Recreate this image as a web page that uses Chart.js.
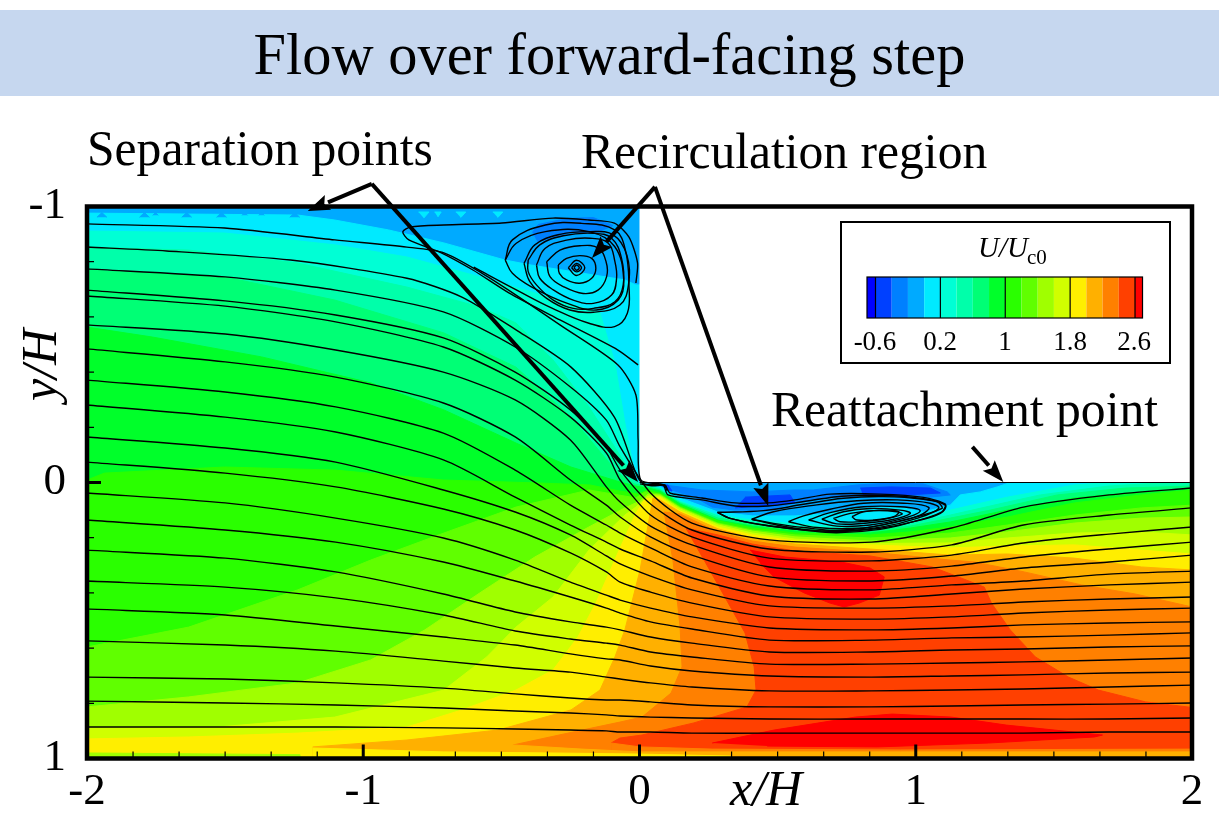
<!DOCTYPE html>
<html>
<head>
<meta charset="utf-8">
<title>Flow over forward-facing step</title>
<script src="https://cdn.jsdelivr.net/npm/chart.js@4/dist/chart.umd.js"></script>
<style>
html, body { margin: 0; padding: 0; background: #fff; }
canvas { display: block; }
</style>
</head>
<body>
<canvas id="flow-chart" width="1219" height="813"></canvas>
<script>
// Axis ticks
const xMajorTicks = [-2, -1, 0, 1, 2];
const yMajorTicks = [-1, 0, 1];
const xMinorPerUnit = 6;
const yMinorPerUnit = 5;

// Legend
const legendColors = ['#0000ff', '#0040ff', '#0080ff', '#00aaff', '#00eaff', '#00ffd5', '#00ffaa', '#00ff75', '#00ff2a',
    '#2aff00', '#60ff00', '#a0ff00', '#d0ff00', '#ffee00', '#ffb000', '#ff8000', '#ff4000', '#ff0000'];
const legendLabels = ['-0.6', '0.2', '1', '1.8', '2.6'];

// Contour regions of U/Uc0, x/H and y/H pairs
const regionBase = [[-2, -1], [2, -1], [2, 1], [-2, 1]];
const levelC4 = [[-2, -0.976], [-1.237, -0.969], [-1.103, -0.951], [-0.908, -0.915], [-0.708, -0.868], [-0.487, -0.806], [-0.393, -0.788], [-0.053, -0.734], [-0.013, -0.716], [0.002, -0.716], [0.002, 0], [0.081, 0.016], [0.147, 0.056], [0.284, 0.107], [0.408, 0.121], [0.563, 0.121], [0.665, 0.114], [0.763, 0.096], [0.861, 0.089], [0.955, 0.092], [1.027, 0.107], [1.125, 0.082], [1.161, 0.045], [1.234, 0.034], [1.295, 0.016], [1.342, 0], [2, 0], [2, 1], [-2, 1]];
const levelC5 = [[-2, -0.911], [-1.502, -0.904], [-1.103, -0.861], [-0.842, -0.817], [-0.578, -0.745], [-0.379, -0.687], [-0.143, -0.614], [-0.125, -0.553], [-0.089, -0.433], [-0.053, -0.216], [-0.013, -0.009], [0.002, 0.004], [0.074, 0.02], [0.147, 0.067], [0.284, 0.118], [0.408, 0.136], [0.563, 0.15], [0.835, 0.165], [0.98, 0.139], [1.125, 0.1], [1.332, 0.053], [1.574, 0.009], [1.697, 0], [2, 0], [2, 1], [-2, 1]];
const levelC6 = [[-2, -0.853], [-1.632, -0.842], [-1.237, -0.795], [-0.842, -0.708], [-0.578, -0.636], [-0.447, -0.578], [-0.313, -0.444], [-0.183, -0.274], [-0.053, -0.071], [-0.005, 0.002], [0.074, 0.024], [0.147, 0.071], [0.284, 0.121], [0.408, 0.143], [0.563, 0.161], [0.835, 0.172], [0.98, 0.15], [1.125, 0.118], [1.332, 0.071], [1.451, 0.045], [1.697, 0.013], [1.879, 0.002], [2, 0.002], [2, 1], [-2, 1]];
const levelC7 = [[-2, -0.77], [-1.502, -0.745], [-1.103, -0.661], [-0.708, -0.542], [-0.447, -0.418], [-0.248, -0.237], [-0.078, -0.034], [-0.02, 0.005], [0.02, 0.013], [0.074, 0.027], [0.147, 0.074], [0.284, 0.129], [0.408, 0.15], [0.563, 0.168], [0.835, 0.178], [0.98, 0.158], [1.125, 0.129], [1.27, 0.1], [1.513, 0.045], [1.759, 0.02], [2, 0.013], [2, 1], [-2, 1]];
const levelC8 = [[-2, -0.563], [-1.763, -0.527], [-1.368, -0.455], [-0.973, -0.361], [-0.708, -0.263], [-0.447, -0.143], [-0.248, -0.056], [-0.071, -0.002], [-0.013, 0.013], [0.031, 0.02], [0.074, 0.031], [0.147, 0.078], [0.284, 0.136], [0.408, 0.158], [0.563, 0.176], [0.835, 0.183], [0.98, 0.165], [1.125, 0.143], [1.332, 0.1], [1.574, 0.056], [1.817, 0.034], [2, 0.024], [2, 1], [-2, 1]];
const levelC9 = [[-2, -0.009], [-1.937, -0.034], [-1.502, -0.056], [-1.103, -0.045], [-0.708, -0.009], [-0.361, 0.002], [-0.179, 0.009], [-0.071, 0.031], [-0.005, 0.042], [0.031, 0.027], [0.074, 0.038], [0.147, 0.085], [0.284, 0.139], [0.408, 0.165], [0.563, 0.183], [0.835, 0.19], [0.98, 0.179], [1.125, 0.161], [1.332, 0.125], [1.574, 0.074], [1.817, 0.045], [2, 0.027], [2, 1], [-2, 1]];
const levelC10 = [[-2, 0.596], [-1.632, 0.524], [-1.237, 0.389], [-0.973, 0.281], [-0.708, 0.183], [-0.447, 0.089], [-0.183, 0.027], [-0.013, 0.056], [0.02, 0.034], [0.074, 0.042], [0.147, 0.089], [0.284, 0.147], [0.408, 0.172], [0.563, 0.19], [0.835, 0.201], [0.98, 0.194], [1.125, 0.183], [1.332, 0.154], [1.574, 0.118], [1.817, 0.092], [2, 0.082], [2, 1], [-2, 1]];
const levelC11 = [[-2, 0.813], [-1.632, 0.777], [-1.237, 0.726], [-0.973, 0.643], [-0.777, 0.534], [-0.578, 0.4], [-0.379, 0.27], [-0.183, 0.161], [-0.053, 0.092], [0.002, 0.067], [0.031, 0.042], [0.074, 0.045], [0.147, 0.092], [0.284, 0.15], [0.408, 0.176], [0.563, 0.197], [0.835, 0.212], [1.125, 0.201], [1.332, 0.179], [1.574, 0.147], [1.817, 0.129], [2, 0.125], [2, 1], [-2, 1]];
const levelC12 = [[-2, 0.889], [-1.527, 0.886], [-1.103, 0.85], [-0.708, 0.752], [-0.553, 0.632], [-0.447, 0.524], [-0.313, 0.415], [-0.183, 0.245], [-0.053, 0.118], [-0.013, 0.089], [0.031, 0.049], [0.074, 0.049], [0.147, 0.096], [0.284, 0.154], [0.408, 0.183], [0.563, 0.205], [0.835, 0.221], [1.125, 0.219], [1.332, 0.201], [1.574, 0.183], [1.817, 0.179], [2, 0.19], [2, 1], [-2, 1]];
const levelC13 = [[-2, 0.929], [-1.632, 0.922], [-1.237, 0.908], [-0.842, 0.886], [-0.643, 0.824], [-0.447, 0.752], [-0.313, 0.679], [-0.223, 0.56], [-0.158, 0.437], [-0.078, 0.255], [-0.013, 0.111], [0.02, 0.06], [0.074, 0.053], [0.147, 0.103], [0.284, 0.161], [0.408, 0.19], [0.563, 0.212], [0.835, 0.226], [1.125, 0.237], [1.332, 0.23], [1.574, 0.226], [1.817, 0.245], [2, 0.259], [2, 1], [-2, 1]];
const levelC14 = [[-1.183, 0.958], [-0.842, 0.933], [-0.513, 0.897], [-0.248, 0.824], [-0.143, 0.752], [-0.089, 0.632], [-0.053, 0.534], [0.002, 0.317], [0.031, 0.154], [0.049, 0.056], [0.074, 0.063], [0.147, 0.107], [0.284, 0.168], [0.408, 0.201], [0.563, 0.223], [0.835, 0.241], [1.125, 0.263], [1.332, 0.259], [1.574, 0.274], [1.817, 0.306], [2, 0.317], [2, 1], [-1.183, 1]];
const levelC15 = [[-0.458, 0.951], [-0.208, 0.897], [-0.071, 0.868], [0.009, 0.85], [0.114, 0.763], [0.154, 0.668], [0.147, 0.524], [0.121, 0.281], [0.089, 0.107], [0.147, 0.114], [0.284, 0.179], [0.408, 0.212], [0.563, 0.234], [0.835, 0.252], [1.125, 0.281], [1.212, 0.288], [1.393, 0.324], [1.6, 0.371], [1.795, 0.404], [2, 0.451], [2, 1], [-0.458, 1]];
const levelC16 = [[-0.103, 0.944], [-0.071, 0.926], [0.009, 0.915], [0.197, 0.871], [0.389, 0.813], [0.422, 0.752], [0.415, 0.668], [0.382, 0.545], [0.248, 0.306], [0.168, 0.165], [0.284, 0.19], [0.408, 0.223], [0.563, 0.248], [0.835, 0.266], [1.06, 0.306], [1.154, 0.342], [1.248, 0.379], [1.274, 0.437], [1.342, 0.534], [1.433, 0.632], [1.553, 0.705], [1.661, 0.752], [1.832, 0.795], [2, 0.815], [2, 1], [-0.103, 1]];
const wallStrip15 = [[-0.103, 0.944], [0.002, 0.958], [0.263, 0.966], [0.944, 0.969], [2, 0.966], [2, 1], [-0.103, 1]];
const wallStrip14 = [[-0.458, 0.951], [-0.208, 0.966], [0.002, 0.976], [0.944, 0.976], [2, 0.976], [2, 1], [-0.458, 1]];
const wallStrip13 = [[-1.183, 0.962], [-0.708, 0.976], [-0.313, 0.98], [0.002, 0.984], [0.328, 0.991], [0.328, 1], [-1.183, 1]];
const wallStrip11 = [[-2, 0.98], [-1.23, 0.986], [-1.23, 1], [-2, 1]];
const redCore = [[0.4, 0.245], [0.527, 0.27], [0.73, 0.288], [0.835, 0.31], [0.886, 0.342], [0.868, 0.408], [0.795, 0.437], [0.741, 0.451], [0.69, 0.437], [0.596, 0.4], [0.487, 0.342], [0.437, 0.292]];
const redLower = [[0.263, 0.944], [0.487, 0.897], [0.781, 0.85], [0.915, 0.839], [1.129, 0.85], [1.328, 0.879], [1.676, 0.915], [1.647, 0.922], [1.263, 0.944], [0.861, 0.958], [0.462, 0.955]];
const upperBlobC2 = [[-0.388, -0.906], [-0.366, -0.935], [-0.261, -0.957], [-0.167, -0.96], [-0.096, -0.931], [-0.154, -0.906], [-0.252, -0.906], [-0.334, -0.88], [-0.37, -0.873]];
const bubbleC2 = [[0.092, 0.02], [0.201, 0.053], [0.263, 0.089], [0.346, 0.1], [0.466, 0.1], [0.563, 0.074], [0.665, 0.056], [0.788, 0.049], [0.908, 0.045], [1.053, 0.053], [1.125, 0.045], [1.114, 0.034], [1.027, 0.005], [0.908, 0.002], [0.788, 0.009], [0.629, 0.027], [0.563, 0.027], [0.408, 0.034], [0.226, 0.027], [0.092, 0.009]];
const bubbleC1 = [[0.799, 0.02], [0.908, 0.016], [1.053, 0.02], [1.089, 0.038], [0.969, 0.045], [0.81, 0.049]];
const bubbleC1Left = [[0.346, 0.092], [0.563, 0.074], [0.545, 0.045], [0.382, 0.053]];
const cornerC1 = [[0.056, 0.009], [0.103, 0.009], [0.118, 0.031], [0.074, 0.027]];
const topTeethC3 = [
    [[-1.964, -0.961], [-1.946, -0.978], [-1.928, -0.961]],
    [[-1.81, -0.961], [-1.792, -0.978], [-1.774, -0.961]],
    [[-1.762, -0.968], [-1.752, -0.978], [-1.742, -0.968]],
    [[-1.657, -0.961], [-1.639, -0.978], [-1.621, -0.961]],
    [[-1.531, -0.961], [-1.513, -0.978], [-1.495, -0.961]],
    [[-1.439, -0.968], [-1.429, -0.978], [-1.419, -0.968]],
    [[-1.378, -0.968], [-1.368, -0.978], [-1.358, -0.968]],
    [[-1.266, -0.961], [-1.248, -0.978], [-1.23, -0.961]]
];
const topNotchesC4 = [
    [[-0.8, -0.98], [-0.762, -0.98], [-0.781, -0.958]],
    [[-0.742, -0.98], [-0.718, -0.98], [-0.73, -0.962]],
    [[-0.665, -0.98], [-0.629, -0.98], [-0.647, -0.96]],
    [[-0.531, -0.98], [-0.495, -0.98], [-0.513, -0.96]]
];
const stepBody = [[0, -1], [2, -1], [2, 0], [0, 0]];

// Streamlines through the shared x/H columns
const streamX = [-2, -1.5, -1.1, -0.71, -0.45, -0.25, -0.12, -0.07, 0.04, 0.19, 0.47, 0.84, 1.13, 1.39, 1.7, 2];
const streamL3 = [-0.774, -0.745, -0.697, -0.618, -0.491, -0.346, -0.226, -0.129, 0.038, 0.147, 0.208, 0.216, 0.165, 0.089, 0.045, 0.02];
const streamL4 = [-0.697, -0.658, -0.607, -0.524, -0.4, -0.263, -0.129, -0.045, 0.078, 0.172, 0.241, 0.252, 0.226, 0.154, 0.118, 0.092];
const streamL5 = [-0.676, -0.639, -0.582, -0.491, -0.371, -0.237, -0.107, -0.009, 0.118, 0.197, 0.274, 0.284, 0.263, 0.219, 0.187, 0.161];
const streamL6 = [-0.571, -0.538, -0.48, -0.4, -0.299, -0.154, 0.016, 0.071, 0.158, 0.226, 0.306, 0.321, 0.303, 0.27, 0.241, 0.216];
const streamL7 = [-0.484, -0.437, -0.382, -0.288, -0.165, -0.009, 0.082, 0.125, 0.197, 0.263, 0.342, 0.357, 0.339, 0.31, 0.288, 0.263];
const streamL8 = [-0.371, -0.328, -0.274, -0.179, -0.045, 0.082, 0.154, 0.183, 0.237, 0.306, 0.375, 0.389, 0.371, 0.357, 0.332, 0.321];
const streamL9 = [-0.281, -0.237, -0.183, -0.082, 0.053, 0.154, 0.216, 0.241, 0.284, 0.346, 0.411, 0.422, 0.404, 0.386, 0.371, 0.361];
const streamL10 = [-0.165, -0.125, -0.074, 0.027, 0.107, 0.19, 0.266, 0.295, 0.339, 0.389, 0.447, 0.455, 0.447, 0.433, 0.422, 0.415];
const streamL11 = [-0.074, -0.034, 0.016, 0.096, 0.172, 0.255, 0.324, 0.361, 0.397, 0.437, 0.487, 0.495, 0.487, 0.473, 0.462, 0.455];
const streamL12 = [0.038, 0.074, 0.129, 0.201, 0.281, 0.361, 0.408, 0.426, 0.455, 0.487, 0.527, 0.534, 0.527, 0.516, 0.509, 0.505];
const streamL13 = [0.136, 0.172, 0.216, 0.288, 0.357, 0.415, 0.455, 0.473, 0.505, 0.531, 0.571, 0.571, 0.563, 0.56, 0.553, 0.545];
const streamL14 = [0.245, 0.274, 0.324, 0.404, 0.469, 0.505, 0.524, 0.534, 0.56, 0.582, 0.614, 0.614, 0.607, 0.603, 0.596, 0.592];
const streamL15 = [0.357, 0.379, 0.418, 0.48, 0.538, 0.567, 0.582, 0.589, 0.614, 0.632, 0.658, 0.658, 0.654, 0.65, 0.643, 0.636];
const streamL16 = [0.458, 0.48, 0.52, 0.56, 0.589, 0.621, 0.639, 0.643, 0.665, 0.683, 0.701, 0.705, 0.701, 0.697, 0.69, 0.687];
const streamL17 = [0.574, 0.589, 0.611, 0.647, 0.672, 0.687, 0.705, 0.712, 0.726, 0.741, 0.755, 0.755, 0.752, 0.748, 0.741, 0.734];
const streamL18 = [0.705, 0.712, 0.726, 0.745, 0.766, 0.781, 0.788, 0.788, 0.795, 0.806, 0.813, 0.813, 0.81, 0.806, 0.803, 0.799];
const streamL19 = [0.792, 0.799, 0.806, 0.817, 0.828, 0.835, 0.842, 0.846, 0.85, 0.853, 0.857, 0.857, 0.857, 0.857, 0.857, 0.853];
const streamL20 = [0.886, 0.886, 0.886, 0.889, 0.893, 0.897, 0.9, 0.904, 0.904, 0.908, 0.908, 0.908, 0.908, 0.908, 0.904, 0.904];

// Streamlines that bend round the step, and the two recirculation vortices
const streamL1 = [[-2, -0.937], [-1.502, -0.922], [-1.103, -0.879], [-0.842, -0.853], [-0.708, -0.832], [-0.578, -0.763], [-0.447, -0.679], [-0.288, -0.571], [-0.078, -0.426], [-0.013, -0.317], [-0.005, -0.154], [0.005, -0.009], [0.092, 0.009], [0.11, 0.038], [0.226, 0.056], [0.346, 0.074], [0.466, 0.074], [0.563, 0.063], [0.69, 0.042], [0.871, 0.042], [1.028, 0.054], [1.107, 0.078], [1.095, 0.106], [0.992, 0.142], [0.871, 0.166], [0.714, 0.178], [0.594, 0.17], [0.497, 0.154], [0.406, 0.133]];
const streamL2 = [[-2, -0.853], [-1.712, -0.839], [-1.263, -0.806], [-0.842, -0.74], [-0.643, -0.672], [-0.447, -0.553], [-0.248, -0.418], [-0.091, -0.237], [-0.013, -0.034], [0.013, 0.004], [0.085, 0.009], [0.103, 0.045], [0.226, 0.063], [0.346, 0.085], [0.466, 0.085], [0.563, 0.074], [0.732, 0.05], [0.932, 0.049], [1.077, 0.069], [1.095, 0.094], [0.98, 0.13], [0.811, 0.166], [0.642, 0.175], [0.449, 0.154], [0.328, 0.13], [0.282, 0.108]];
const cornerWiggle = [[0.002, 0.005], [0.05, 0.012], [0.09, 0.01], [0.1, 0.03]];
const upperSeparation = [[-0.013, -0.723], [-0.007, -0.795], [-0.038, -0.889], [-0.091, -0.94], [-0.183, -0.951], [-0.313, -0.958], [-0.498, -0.94], [-0.708, -0.933], [-0.828, -0.926], [-0.857, -0.908], [-0.835, -0.879], [-0.723, -0.835], [-0.603, -0.77], [-0.473, -0.687], [-0.288, -0.589], [-0.078, -0.48], [-0.005, -0.426]];
const upperTail = [[-0.6, -0.78], [-0.446, -0.698], [-0.315, -0.631], [-0.183, -0.577], [-0.09, -0.565], [-0.044, -0.613], [-0.038, -0.71], [-0.051, -0.842], [-0.09, -0.915], [-0.21, -0.939], [-0.341, -0.933], [-0.46, -0.879], [-0.486, -0.806]];
const upperRing9 = [[-0.486, -0.806], [-0.446, -0.867], [-0.341, -0.909], [-0.183, -0.909], [-0.09, -0.855], [-0.057, -0.734], [-0.077, -0.661], [-0.156, -0.625], [-0.261, -0.649], [-0.393, -0.71], [-0.46, -0.758], [-0.486, -0.806]];
const upperRing8 = [[-0.418, -0.794], [-0.379, -0.861], [-0.288, -0.899], [-0.179, -0.909], [-0.095, -0.897], [-0.046, -0.824], [-0.04, -0.716], [-0.071, -0.643], [-0.167, -0.617], [-0.252, -0.625], [-0.336, -0.667], [-0.397, -0.728], [-0.418, -0.794]];
const upperRing7 = [[-0.403, -0.806], [-0.361, -0.861], [-0.276, -0.894], [-0.167, -0.903], [-0.101, -0.885], [-0.065, -0.812], [-0.059, -0.716], [-0.089, -0.655], [-0.167, -0.631], [-0.24, -0.631], [-0.312, -0.661], [-0.373, -0.716], [-0.403, -0.764], [-0.403, -0.806]];
const upperRing6 = [[-0.373, -0.788], [-0.342, -0.848], [-0.264, -0.878], [-0.179, -0.885], [-0.113, -0.867], [-0.089, -0.8], [-0.083, -0.74], [-0.101, -0.679], [-0.167, -0.649], [-0.24, -0.661], [-0.312, -0.698], [-0.361, -0.74], [-0.373, -0.788]];
const upperRing5 = [[-0.336, -0.8], [-0.288, -0.842], [-0.216, -0.858], [-0.149, -0.849], [-0.121, -0.8], [-0.119, -0.746], [-0.149, -0.698], [-0.204, -0.685], [-0.276, -0.71], [-0.324, -0.746], [-0.336, -0.8]];
const upperRing4 = [[-0.294, -0.788], [-0.264, -0.812], [-0.216, -0.822], [-0.173, -0.812], [-0.158, -0.776], [-0.173, -0.74], [-0.216, -0.722], [-0.264, -0.734], [-0.29, -0.758], [-0.294, -0.788]];
const upperRing3 = [[-0.258, -0.778], [-0.228, -0.805], [-0.198, -0.778], [-0.228, -0.75], [-0.258, -0.778]];
const upperRing2 = [[-0.246, -0.778], [-0.228, -0.794], [-0.21, -0.778], [-0.228, -0.763], [-0.246, -0.778]];
const upperRing1 = [[-0.237, -0.778], [-0.228, -0.788], [-0.218, -0.778], [-0.228, -0.769], [-0.237, -0.778]];
const lowerLoopA = [[0.282, 0.108], [0.449, 0.102], [0.594, 0.079], [0.738, 0.057], [0.883, 0.051], [1.028, 0.061], [1.107, 0.082], [1.089, 0.112], [0.992, 0.142], [0.871, 0.17], [0.714, 0.182], [0.594, 0.172], [0.449, 0.154], [0.328, 0.13], [0.282, 0.108]];
const lowerLoopB = [[0.406, 0.133], [0.485, 0.106], [0.642, 0.081], [0.787, 0.066], [0.932, 0.063], [1.052, 0.075], [1.083, 0.094], [1.004, 0.13], [0.883, 0.16], [0.738, 0.175], [0.594, 0.163], [0.485, 0.148], [0.406, 0.133]];
const lowerLoopC = [[0.539, 0.142], [0.594, 0.121], [0.69, 0.097], [0.811, 0.075], [0.956, 0.075], [1.047, 0.09], [1.016, 0.118], [0.907, 0.148], [0.787, 0.166], [0.642, 0.163], [0.539, 0.142]];
const lowerLoopD = [[0.612, 0.136], [0.69, 0.109], [0.811, 0.088], [0.944, 0.088], [1.016, 0.102], [0.956, 0.13], [0.835, 0.154], [0.714, 0.158], [0.612, 0.136]];
const lowerLoopE = [[0.66, 0.133], [0.738, 0.106], [0.835, 0.094], [0.944, 0.1], [0.98, 0.112], [0.907, 0.136], [0.811, 0.148], [0.714, 0.15], [0.66, 0.133]];
const lowerLoopF = [[0.702, 0.13], [0.763, 0.112], [0.847, 0.102], [0.932, 0.106], [0.95, 0.115], [0.883, 0.133], [0.799, 0.142], [0.726, 0.142], [0.702, 0.13]];
const lowerLoopG = [[0.769, 0.124], [0.811, 0.106], [0.896, 0.1], [0.938, 0.106], [0.92, 0.124], [0.847, 0.136], [0.787, 0.136], [0.769, 0.124]];

// Annotation arrows, tail x, tail y, tip x, tip y
const arrowSeparationTop = [-0.969, -1.082, -1.201, -0.984];
const arrowSeparationCorner = [-0.969, -1.082, -0.005, -0.002];
const arrowRecirculationUpper = [0.056, -1.071, -0.172, -0.813];
const arrowRecirculationLower = [0.056, -1.071, 0.466, 0.085];
const arrowReattachment = [1.205, -0.129, 1.317, -0.002];

const SERIF = '"Liberation Serif", "Times New Roman", serif';

function toPoints(pairs) {
    return pairs.map(p => ({ x: p[0], y: p[1] }));
}

function regionDataset(pairs, color) {
    return {
        data: toPoints(pairs),
        showLine: true,
        fill: 'shape',
        backgroundColor: color,
        borderColor: color,
        borderWidth: 1,
        pointRadius: 0,
        tension: 0
    };
}

function streamDataset(pairs, tension) {
    return {
        data: toPoints(pairs),
        showLine: true,
        fill: false,
        borderColor: '#000',
        borderWidth: 1.4,
        pointRadius: 0,
        tension: tension
    };
}

const c = legendColors;
const datasets = [
    regionDataset(regionBase, c[3]),
    regionDataset(upperBlobC2, c[2]),
    regionDataset(bubbleC2, c[2]),
    regionDataset(bubbleC1, c[1]),
    regionDataset(bubbleC1Left, c[1]),
    regionDataset(cornerC1, c[1]),
    regionDataset(levelC4, c[4])
];
topTeethC3.forEach(t => datasets.push(regionDataset(t, c[3])));
topNotchesC4.forEach(t => datasets.push(regionDataset(t, c[4])));
[levelC5, levelC6, levelC7, levelC8, levelC9, levelC10, levelC11, levelC12, levelC13, levelC14, levelC15, levelC16]
    .forEach((level, i) => datasets.push(regionDataset(level, c[i + 5])));
datasets.push(regionDataset(wallStrip15, c[15]));
datasets.push(regionDataset(wallStrip14, c[14]));
datasets.push(regionDataset(wallStrip13, c[13]));
datasets.push(regionDataset(wallStrip11, c[11]));
datasets.push(regionDataset(redCore, c[17]));
datasets.push(regionDataset(redLower, c[17]));

const stepDataset = regionDataset(stepBody, '#fff');
stepDataset.borderColor = '#000';
datasets.push(stepDataset);

[streamL3, streamL4, streamL5, streamL6, streamL7, streamL8, streamL9, streamL10, streamL11, streamL12, streamL13,
    streamL14, streamL15, streamL16, streamL17, streamL18, streamL19, streamL20].forEach(line => {
    datasets.push(streamDataset(streamX.map((x, i) => [x, line[i]]), 0.25));
});
[streamL1, streamL2, cornerWiggle, upperSeparation].forEach(line => datasets.push(streamDataset(line, 0.25)));
[upperTail, upperRing9, upperRing8, upperRing7, upperRing6, upperRing5, upperRing4, upperRing3, upperRing2, upperRing1,
    lowerLoopA, lowerLoopB, lowerLoopC, lowerLoopD, lowerLoopE, lowerLoopF, lowerLoopG]
    .forEach(line => datasets.push(streamDataset(line, 0.4)));

// first dataset in the list is painted on top, so flip for painter's order
datasets.reverse();

function drawText(ctx, text, x, y, font, align) {
    ctx.font = font;
    ctx.textAlign = align || 'left';
    ctx.textBaseline = 'alphabetic';
    ctx.fillStyle = '#000';
    ctx.fillText(text, x, y);
}

const titleBand = {
    id: 'titleBand',
    beforeDraw(chart) {
        const ctx = chart.ctx;
        ctx.save();
        ctx.fillStyle = '#c6d7ef';
        ctx.fillRect(0, 10, chart.width, 86);
        drawText(ctx, 'Flow over forward-facing step', 609.5, 74, '58.4px ' + SERIF, 'center');
        ctx.restore();
    }
};

const frameAndNotes = {
    id: 'frameAndNotes',
    afterDatasetsDraw(chart) {
        const ctx = chart.ctx;
        const area = chart.chartArea;
        const xs = chart.scales.x;
        const ys = chart.scales.y;
        ctx.save();

        // minor ticks then major ticks, all pointing inwards
        ctx.strokeStyle = '#000';
        ctx.lineWidth = 1.2;
        ctx.beginPath();
        for (let i = 0; i <= 4 * xMinorPerUnit; i++) {
            const px = xs.getPixelForValue(-2 + i / xMinorPerUnit);
            ctx.moveTo(px, area.bottom);
            ctx.lineTo(px, area.bottom - 7);
        }
        for (let i = 0; i <= 2 * yMinorPerUnit; i++) {
            const py = ys.getPixelForValue(-1 + i / yMinorPerUnit);
            ctx.moveTo(area.left, py);
            ctx.lineTo(area.left + 7, py);
        }
        ctx.stroke();
        ctx.lineWidth = 3;
        ctx.beginPath();
        xMajorTicks.forEach(v => {
            const px = xs.getPixelForValue(v);
            ctx.moveTo(px, area.bottom);
            ctx.lineTo(px, area.bottom - 14);
        });
        yMajorTicks.forEach(v => {
            const py = ys.getPixelForValue(v);
            ctx.moveTo(area.left, py);
            ctx.lineTo(area.left + 14, py);
        });
        ctx.stroke();

        ctx.lineWidth = 4.5;
        ctx.strokeRect(area.left, area.top, area.right - area.left, area.bottom - area.top);

        // arrows
        [arrowSeparationTop, arrowSeparationCorner, arrowRecirculationUpper, arrowRecirculationLower, arrowReattachment].forEach(a => {
            const x0 = xs.getPixelForValue(a[0]);
            const y0 = ys.getPixelForValue(a[1]);
            const x1 = xs.getPixelForValue(a[2]);
            const y1 = ys.getPixelForValue(a[3]);
            const ang = Math.atan2(y1 - y0, x1 - x0);
            const bx = x1 - 22 * Math.cos(ang);
            const by = y1 - 22 * Math.sin(ang);
            ctx.lineWidth = 4;
            ctx.beginPath();
            ctx.moveTo(x0, y0);
            ctx.lineTo(bx, by);
            ctx.stroke();
            ctx.fillStyle = '#000';
            ctx.beginPath();
            ctx.moveTo(x1, y1);
            ctx.lineTo(bx - 8 * Math.sin(ang), by + 8 * Math.cos(ang));
            ctx.lineTo(bx + 4 * Math.cos(ang), by + 4 * Math.sin(ang));
            ctx.lineTo(bx + 8 * Math.sin(ang), by - 8 * Math.cos(ang));
            ctx.closePath();
            ctx.fill();
        });

        // legend box
        ctx.fillStyle = '#fff';
        ctx.fillRect(841, 222, 329, 141);
        ctx.strokeStyle = '#000';
        ctx.lineWidth = 2;
        ctx.strokeRect(841, 222, 329, 141);
        const barLeft = 867, barTop = 277, barH = 41, step = 16.22;
        const firstW = 8.5;
        let bx = barLeft;
        legendColors.forEach((col, i) => {
            const w = i === 0 ? firstW : (i === legendColors.length - 1 ? 7.5 : step);
            ctx.fillStyle = col;
            ctx.fillRect(bx, barTop, w, barH);
            bx += w;
        });
        ctx.lineWidth = 1.2;
        ctx.strokeRect(barLeft, barTop, bx - barLeft, barH);
        ctx.beginPath();
        legendLabels.forEach((_, i) => {
            const sx = barLeft + firstW + i * step * 4;
            ctx.moveTo(sx, barTop);
            ctx.lineTo(sx, barTop + barH);
        });
        ctx.stroke();
        const legendX = [875, 940, 1005, 1070, 1134];
        legendLabels.forEach((t, i) => drawText(ctx, t, legendX[i], 350, '27px ' + SERIF, 'center'));
        drawText(ctx, 'U/U', 978, 257, 'italic 29px ' + SERIF);
        drawText(ctx, 'c0', 1027, 264, '21px ' + SERIF);

        // notes
        drawText(ctx, 'Separation points', 87, 165, '49.6px ' + SERIF);
        drawText(ctx, 'Recirculation region', 581, 168, '49.6px ' + SERIF);
        drawText(ctx, 'Reattachment point', 771, 426, '49.6px ' + SERIF);
        drawText(ctx, 'x/H', 730, 805, 'italic 50px ' + SERIF);
        ctx.translate(56, 365);
        ctx.rotate(-Math.PI / 2);
        drawText(ctx, 'y/H', 0, 0, 'italic 50px ' + SERIF, 'center');
        ctx.restore();
    }
};

new Chart(document.getElementById('flow-chart').getContext('2d'), {
    type: 'scatter',
    data: { datasets: datasets },
    plugins: [titleBand, frameAndNotes],
    options: {
        responsive: false,
        animation: false,
        events: [],
        layout: { autoPadding: false, padding: { left: 0, top: 206.5, right: 27, bottom: 0 } },
        plugins: {
            legend: { display: false },
            tooltip: { enabled: false },
            title: { display: false }
        },
        scales: {
            x: {
                type: 'linear',
                min: -2,
                max: 2,
                afterFit(scale) { scale.height = 54.5; },
                border: { display: false },
                grid: { display: false, drawTicks: false },
                ticks: {
                    stepSize: 1,
                    autoSkip: false,
                    maxRotation: 0,
                    padding: 7,
                    color: '#000',
                    font: { family: SERIF, size: 45 },
                    callback: v => xMajorTicks.includes(v) ? String(v) : ''
                }
            },
            y: {
                type: 'linear',
                reverse: true,
                min: -1,
                max: 1,
                afterFit(scale) { scale.width = 87; },
                border: { display: false },
                grid: { display: false, drawTicks: false },
                ticks: {
                    stepSize: 1,
                    autoSkip: false,
                    padding: 21,
                    color: '#000',
                    font: { family: SERIF, size: 45 },
                    callback: v => yMajorTicks.includes(v) ? String(v) : ''
                }
            }
        }
    }
});
</script>
</body>
</html>
